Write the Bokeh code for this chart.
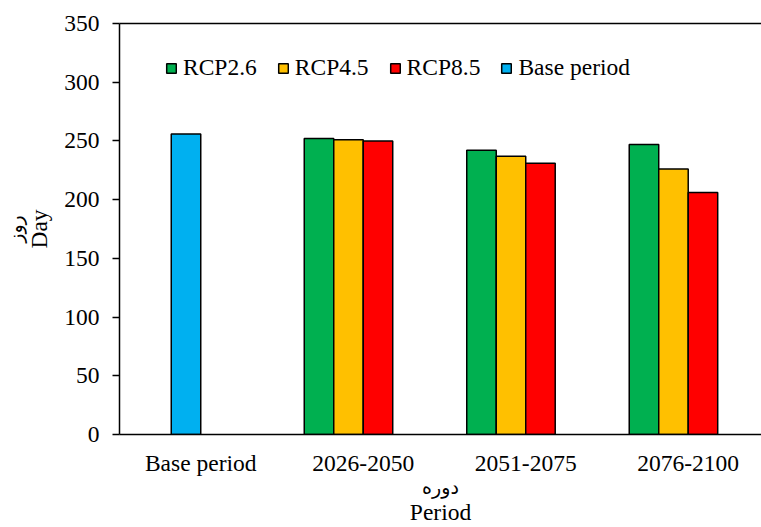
import numpy as np
from bokeh.plotting import figure
from bokeh.models import (Range1d, FixedTicker, LinearAxis, Legend, LegendItem)
from bokeh.embed import file_html
from bokeh.resources import INLINE

periods = ["Base period", "2026-2050", "2051-2075", "2076-2100"]
rcp26 = [np.nan, 252, 242, 247]
rcp45 = [np.nan, 251, 237, 226]
rcp85 = [np.nan, 250, 231, 206]
base = [256, np.nan, np.nan, np.nan]
y_ticks = [0, 50, 100, 150, 200, 250, 300, 350]

series = [
    ("RCP2.6", rcp26, "#00B050", -1.5),
    ("RCP4.5", rcp45, "#FFC000", -0.5),
    ("RCP8.5", rcp85, "#FF0000", 0.5),
    ("Base period", base, "#00B0F0", -0.5),
]

FONT = "Liberation Serif"
FS = "23.5px"
PFONT = "DejaVu Sans"
PFS = "19px"
BW = 0.1815

p = figure(width=761, height=527, output_backend="svg", toolbar_location=None,
           x_range=Range1d(0, 3.951), y_range=Range1d(0, 350),
           x_axis_location="below", y_axis_location="left",
           min_border_left=119, min_border_right=0, min_border_top=23, min_border_bottom=93)
p.outline_line_color = None
p.grid.visible = False
p.background_fill_color = "white"
p.border_fill_color = "white"

items = []
for name, vals, color, off in series:
    v = np.array(vals, dtype=float)
    idx = np.arange(len(periods))
    m = ~np.isnan(v)
    xs = idx[m] + 0.5 + off * BW
    r = p.vbar(x=xs, top=v[m], bottom=0, width=BW, fill_color=color,
               line_color="black", line_width=1.5)
    items.append(LegendItem(label=name, renderers=[r]))

# main x axis
xa = p.xaxis[0]
xa.ticker = FixedTicker(ticks=[i + 0.5 for i in range(len(periods))])
xa.major_label_overrides = {i + 0.5: s for i, s in enumerate(periods)}
xa.major_tick_out = 0
xa.major_tick_in = 0
xa.minor_tick_line_color = None
xa.major_label_text_font = FONT
xa.major_label_text_font_size = FS
xa.major_label_text_color = "black"
xa.major_label_standoff = 15
xa.axis_line_width = 1.5
xa.axis_line_color = "black"
xa.axis_label = "دوره"
xa.axis_label_text_font = PFONT
xa.axis_label_text_font_size = PFS
xa.axis_label_text_font_style = "normal"
xa.axis_label_text_color = "black"
xa.axis_label_standoff = -3

# second x axis carrying the English label
xa2 = LinearAxis(ticker=FixedTicker(ticks=[]), major_label_text_font_size="0px",
                 major_tick_out=0, major_tick_in=0, minor_tick_line_color=None,
                 axis_line_color=None, axis_label="Period",
                 axis_label_text_font=FONT, axis_label_text_font_size=FS,
                 axis_label_text_font_style="normal", axis_label_text_color="black",
                 axis_label_standoff=-2, major_label_standoff=0)
p.add_layout(xa2, "below")

# main y axis
ya = p.yaxis[0]
ya.ticker = FixedTicker(ticks=y_ticks)
ya.major_tick_out = 7
ya.major_tick_in = 0
ya.major_tick_line_width = 1.5
ya.minor_tick_line_color = None
ya.major_label_text_font = FONT
ya.major_label_text_font_size = FS
ya.major_label_text_color = "black"
ya.major_label_standoff = 13
ya.axis_line_width = 1.5
ya.axis_line_color = "black"
ya.axis_label = "Day"
ya.axis_label_text_font = FONT
ya.axis_label_text_font_size = FS
ya.axis_label_text_font_style = "normal"
ya.axis_label_text_color = "black"
ya.axis_label_standoff = 9

# second y axis carrying the Persian label
ya2 = LinearAxis(ticker=FixedTicker(ticks=[]), major_label_text_font_size="0px",
                 major_tick_out=0, major_tick_in=0, minor_tick_line_color=None,
                 axis_line_color=None, axis_label="روز",
                 axis_label_text_font=PFONT, axis_label_text_font_size=PFS,
                 axis_label_text_font_style="normal", axis_label_text_color="black",
                 axis_label_standoff=-2, major_label_standoff=0)
p.add_layout(ya2, "left")

top = LinearAxis(ticker=FixedTicker(ticks=[]), major_label_text_font_size="0px",
                 major_tick_out=0, major_tick_in=0, minor_tick_line_color=None,
                 axis_line_width=1.5, axis_line_color="black", major_label_standoff=0)
p.add_layout(top, "above")

legend = Legend(items=items, orientation="horizontal", location=(46, 353),
                glyph_width=12, glyph_height=12, label_standoff=6, spacing=20,
                padding=0, margin=0, border_line_color=None, background_fill_alpha=0,
                label_text_font=FONT, label_text_font_size=FS, label_text_color="black")
p.add_layout(legend)

open("out.html", "w").write(file_html(p, INLINE))
